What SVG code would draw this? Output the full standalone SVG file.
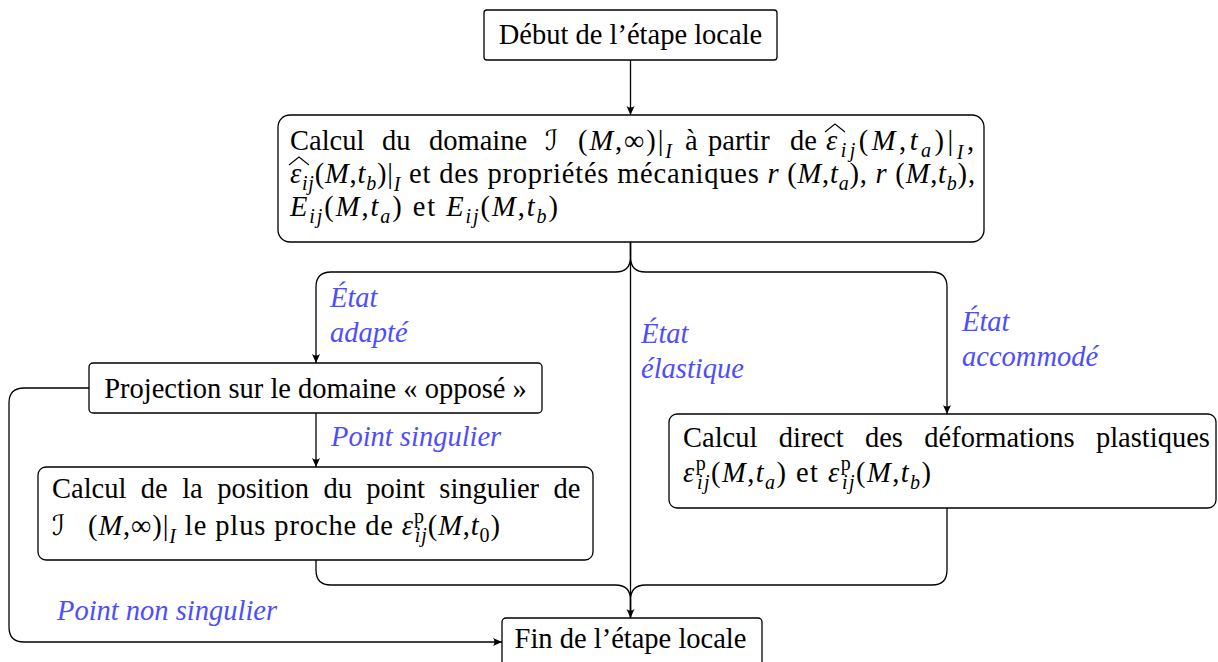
<svg xmlns="http://www.w3.org/2000/svg" width="1218" height="662" viewBox="0 0 1218 662">
<style>
text{font-family:"Liberation Serif","Times New Roman",serif;font-size:28.5px;fill:#000}
.i{font-style:italic}
.sub{font-style:italic;font-size:20px}
.up{font-size:20px;font-style:normal}
.scr{font-family:"DejaVu Sans","DejaVu Serif",sans-serif;font-style:normal;font-size:28px}
.lbl{font-style:italic;fill:#4d4dff}
.box{fill:#fff;stroke:#000;stroke-width:1.3}
.ln{fill:none;stroke:#000;stroke-width:1.3}
.hat{fill:none;stroke:#000;stroke-width:1.1}
</style>
<defs>
<marker id="ar" viewBox="-10 -5 11 10" refX="0" refY="0" markerWidth="11" markerHeight="10" orient="auto" markerUnits="userSpaceOnUse"><path d="M0,0 L-9,-4 Q-6,0 -9,4 Z" fill="#000"/></marker>
</defs>
<g id="connectors">
<path class="ln" d="M630.5,60 V115" marker-end="url(#ar)"/>
<path class="ln" d="M630.5,242 V618" marker-end="url(#ar)"/>
<path class="ln" d="M630.5,242 V257 Q630.5,272 615.5,272 H331 Q316,272 316,287 V363" marker-end="url(#ar)"/>
<path class="ln" d="M630.5,242 V257 Q630.5,272 645.5,272 H932 Q947,272 947,287 V414" marker-end="url(#ar)"/>
<path class="ln" d="M316,413 V467" marker-end="url(#ar)"/>
<path class="ln" d="M89,388 H24 Q9,388 9,403 V627 Q9,642 24,642 H502" marker-end="url(#ar)"/>
<path class="ln" d="M316,560 V570 Q316,585 331,585 H615.5 Q630.5,585 630.5,600 V618"/>
<path class="ln" d="M947,508 V570 Q947,585 932,585 H645.5 Q630.5,585 630.5,600 V618"/>
<text class="lbl" x="330" y="307">État</text>
<text class="lbl" x="330" y="342">adapté</text>
<text class="lbl" x="641" y="343">État</text>
<text class="lbl" x="641" y="378">élastique</text>
<text class="lbl" x="962" y="331">État</text>
<text class="lbl" x="962" y="366">accommodé</text>
<text class="lbl" x="331" y="446">Point singulier</text>
<text class="lbl" x="57" y="620">Point non singulier</text>
</g>
<g id="debut">
<rect class="box" x="484" y="10" width="293" height="50" rx="3"/>
<text x="630.5" y="44" text-anchor="middle">Début de l’étape locale</text>
</g>
<g id="calcul-domaine">
<rect class="box" x="278" y="115" width="706" height="127" rx="12"/>
<text x="290" y="150">Calcul</text>
<text x="382" y="150">du</text>
<text x="429" y="150">domaine</text>
<text class="scr" x="545" y="150">ℐ</text>
<text x="578" y="150" textLength="94" lengthAdjust="spacing">(<tspan class="i">M</tspan>,∞)|<tspan class="sub" dy="8">I</tspan></text>
<text x="685" y="150">à</text>
<text x="708" y="150">partir</text>
<text x="790" y="150">de</text>
<path class="hat" d="M825,132 L835,124 L845,132"/>
<text x="826" y="150" textLength="148" lengthAdjust="spacing"><tspan class="i">ε</tspan><tspan class="sub" dy="7">ij</tspan><tspan dy="-7">(</tspan><tspan class="i">M</tspan>,<tspan class="i">t</tspan><tspan class="sub" dy="7">a</tspan><tspan dy="-7">)|</tspan><tspan class="sub" dy="9">I</tspan><tspan dy="-9">,</tspan></text>
<path class="hat" d="M289,165 L299,157 L309,165"/>
<text x="290" y="183" textLength="685" lengthAdjust="spacing"><tspan class="i">ε</tspan><tspan class="sub" dy="7">ij</tspan><tspan dy="-7">(</tspan><tspan class="i">M</tspan>,<tspan class="i">t</tspan><tspan class="sub" dy="7">b</tspan><tspan dy="-7">)|</tspan><tspan class="sub" dy="8">I</tspan><tspan dy="-8"> et des propriétés mécaniques </tspan><tspan class="i">r</tspan> (<tspan class="i">M</tspan>,<tspan class="i">t</tspan><tspan class="sub" dy="7">a</tspan><tspan dy="-7">), </tspan><tspan class="i">r</tspan> (<tspan class="i">M</tspan>,<tspan class="i">t</tspan><tspan class="sub" dy="7">b</tspan><tspan dy="-7">),</tspan></text>
<text x="290" y="216" textLength="268" lengthAdjust="spacing"><tspan class="i">E</tspan><tspan class="sub" dy="7">ij</tspan><tspan dy="-7">(</tspan><tspan class="i">M</tspan>,<tspan class="i">t</tspan><tspan class="sub" dy="7">a</tspan><tspan dy="-7">) et </tspan><tspan class="i">E</tspan><tspan class="sub" dy="7">ij</tspan><tspan dy="-7">(</tspan><tspan class="i">M</tspan>,<tspan class="i">t</tspan><tspan class="sub" dy="7">b</tspan><tspan dy="-7">)</tspan></text>
</g>
<g id="projection">
<rect class="box" x="89" y="363" width="453" height="50" rx="4"/>
<text x="315.5" y="398" text-anchor="middle">Projection sur le domaine « opposé »</text>
</g>
<g id="calcul-position">
<rect class="box" x="38" y="467" width="555" height="93" rx="8"/>
<text x="52" y="498" word-spacing="7.3">Calcul de la position du point singulier de</text>
<text class="scr" x="52" y="535">ℐ</text>
<text x="88" y="535" textLength="412" lengthAdjust="spacing">(<tspan class="i">M</tspan>,∞)|<tspan class="sub" dy="8">I</tspan><tspan dy="-8"> le plus proche de </tspan><tspan class="i">ε</tspan><tspan class="up" dy="-12">p</tspan><tspan class="sub" dx="-10" dy="19">ij</tspan><tspan dy="-7">(</tspan><tspan class="i">M</tspan>,<tspan class="i">t</tspan><tspan class="up" dy="7">0</tspan><tspan dy="-7">)</tspan></text>
</g>
<g id="calcul-direct">
<rect class="box" x="669" y="414" width="547" height="94" rx="8"/>
<text x="683" y="447" word-spacing="14.2">Calcul direct des déformations plastiques</text>
<text x="683" y="482" textLength="248" lengthAdjust="spacing"><tspan class="i">ε</tspan><tspan class="up" dy="-12">p</tspan><tspan class="sub" dx="-10" dy="19">ij</tspan><tspan dy="-7">(</tspan><tspan class="i">M</tspan>,<tspan class="i">t</tspan><tspan class="sub" dy="7">a</tspan><tspan dy="-7">) et </tspan><tspan class="i">ε</tspan><tspan class="up" dy="-12">p</tspan><tspan class="sub" dx="-10" dy="19">ij</tspan><tspan dy="-7">(</tspan><tspan class="i">M</tspan>,<tspan class="i">t</tspan><tspan class="sub" dy="7">b</tspan><tspan dy="-7">)</tspan></text>
</g>
<g id="fin">
<rect class="box" x="502" y="618" width="260" height="60" rx="4"/>
<text x="630.5" y="648" text-anchor="middle">Fin de l’étape locale</text>
</g>
</svg>
